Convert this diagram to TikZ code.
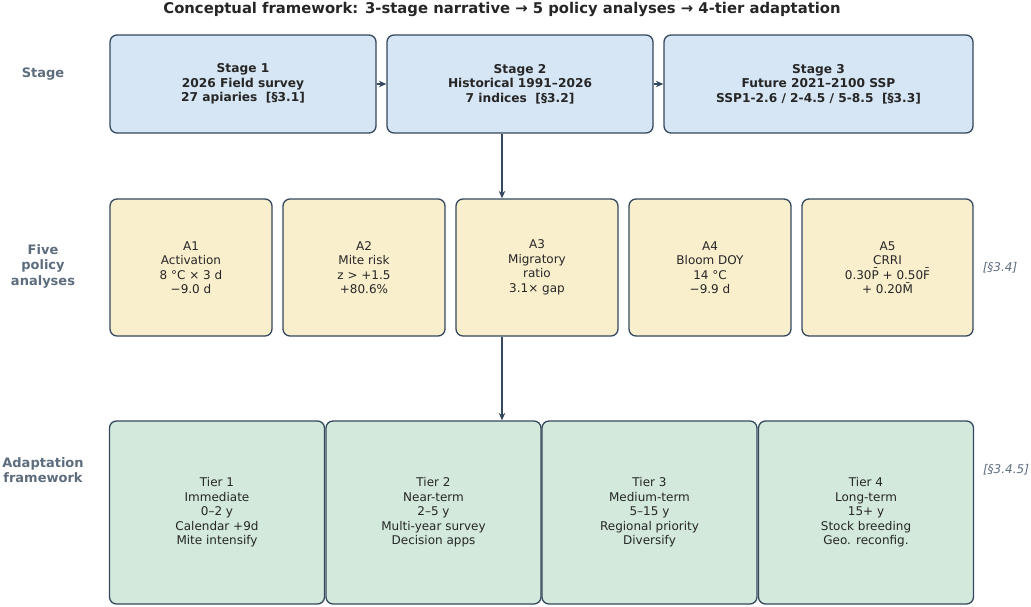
\documentclass[tikz,border=0pt]{standalone}
\usepackage{fontspec}
\setmainfont{DejaVu Sans}
\usetikzlibrary{arrows.meta, positioning, calc}
\definecolor{bordo}{HTML}{34495E}
\definecolor{grigio}{HTML}{5D6D7E}
\definecolor{azzurro}{HTML}{D6E6F4}
\definecolor{crema}{HTML}{F9EFCD}
\definecolor{menta}{HTML}{D2E9DC}
\tikzset{
  casella/.style   = {rectangle, rounded corners=7pt, draw=bordo, line width=1.3pt, align=center, font=\fontsize{12}{14.5}\selectfont, text=black!85},
  stadio/.style    = {casella, fill=azzurro, minimum height=98pt, font=\fontsize{12.2}{14.5}\selectfont\bfseries},
  analisi/.style   = {casella, fill=crema, minimum width=162pt, minimum height=137pt},
  livello/.style   = {casella, fill=menta, minimum width=215pt, minimum height=183pt},
  riga/.style      = {font=\fontsize{13}{15.5}\selectfont\bfseries, text=grigio, align=center},
  sezione/.style   = {font=\fontsize{12}{14}\selectfont\itshape, text=grigio},
  link/.style      = {draw=bordo, line width=1.3pt, -{Stealth[length=7.5pt,width=6.5pt]}}
}

\begin{document}
\begin{tikzpicture}[x=1pt, y=-1pt]
  \useasboundingbox (0,0) rectangle (1031,606);

  \node[font=\fontsize{14.8}{18}\selectfont\bfseries, text=black!85] (titolo) at (502,9)
    {Conceptual framework: 3-stage narrative → 5 policy analyses → 4-tier adaptation};

  % etichette di riga
  \node[riga] (lstadio)  at (43,74)  {Stage};
  \node[riga] (lanalisi) at (43,266) {Five\\policy\\analyses};
  \node[riga] (llivello) at (43,470) {Adaptation\\framework};

  % STADI
  \node[stadio, minimum width=266pt] (s1) at (243,84)   {Stage 1\\2026 Field survey\\27 apiaries\ \ [§3.1]};
  \node[stadio, minimum width=266pt] (s2) at (520,84)   {Stage 2\\Historical 1991–2026\\7 indices\ \ [§3.2]};
  \node[stadio, minimum width=309pt] (s3) at (818.5,84) {Stage 3\\Future 2021–2100 SSP\\SSP1-2.6 / 2-4.5 / 5-8.5\ \ [§3.3]};

  % ANALISI
  \node[analisi] (a1) at (191,267.5) {A1\\Activation\\8 °C × 3 d\\−9.0 d};
  \node[analisi] (a2) at (364,267.5) {A2\\Mite risk\\z > +1.5\\+80.6\%};
  \node[analisi] (a3) at (537,267.5) {A3\\Migratory\\ratio\\3.1× gap};
  \node[analisi] (a4) at (710,267.5) {A4\\Bloom DOY\\14 °C\\−9.9 d};
  \node[analisi, minimum width=171pt] (a5) at (887.5,267.5) {A5\\CRRI\\0.30P̄ + 0.50F̄\\+ 0.20M̄};
  \node[sezione] (sez34) at (1000,268) {[§3.4]};

  % LIVELLI
  \node[livello] (t1) at (217,512.5)   {Tier 1\\Immediate\\0–2 y\\Calendar +9d\\Mite intensify};
  \node[livello] (t2) at (433.5,512.5) {Tier 2\\Near-term\\2–5 y\\Multi-year survey\\Decision apps};
  \node[livello] (t3) at (649.5,512.5) {Tier 3\\Medium-term\\5–15 y\\Regional priority\\Diversify};
  \node[livello] (t4) at (866,512.5)   {Tier 4\\Long-term\\15+ y\\Stock breeding\\Geo. reconfig.};
  \node[sezione] (sez345) at (1006,470) {[§3.4.5]};

  \coordinate (asse) at (502,0);

  \draw[link] (s1) -- (s2);
  \draw[link] (s2) -- (s3);
  \draw[link] (s2.south -| asse) -- (a3.north -| asse);
  \draw[link] (a3.south -| asse) -- (t2.north -| asse);

\end{tikzpicture}
\end{document}
